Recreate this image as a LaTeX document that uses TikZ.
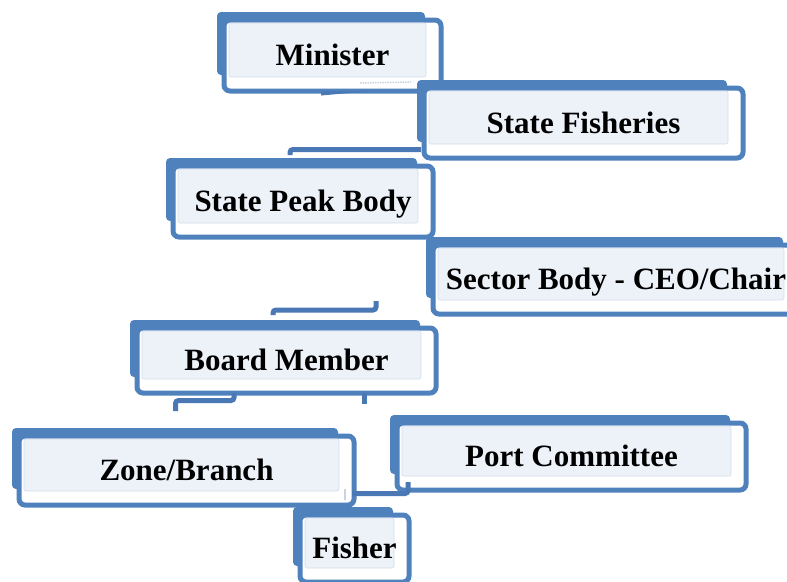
\documentclass[tikz,border=0pt]{standalone}
\usepackage{fontspec}
\setmainfont{Liberation Serif}
\usetikzlibrary{fit}

\definecolor{boxblue}{HTML}{4F81BD}
\definecolor{boxlight}{HTML}{EDF2F9}
\definecolor{panelrim}{HTML}{D3DEEC}
\definecolor{linkblue}{HTML}{4A78B4}
\definecolor{faintgrey}{HTML}{C9D3DF}

\tikzset{
  backplate/.style={fill=boxblue, rounded corners=4pt},
  frame/.style={draw=boxblue, line width=5pt, fill=white, rounded corners=6pt, inner sep=0pt},
  panel/.style={fill=boxlight, draw=panelrim, line width=0.6pt, rounded corners=2pt},
  boxtext/.style={font=\fontsize{31}{33}\selectfont\bfseries, inner sep=0pt, anchor=base},
  link/.style={draw=linkblue, line width=5pt, rounded corners=3pt},
  ghostlink/.style={draw=faintgrey, line width=1.5pt},
}

% \orgbox{name}{x1}{y1}{x2}{y2}{text}: (x1,y1)-(x2,y2) is the solid back plate;
% the outlined frame sits lower right of it and the light panel carries the text.
\newcommand\orgbox[6]{%
  \fill[backplate] (#2,#3) rectangle (#4,#5);
  \path (#2+7,#3+8) coordinate (#1-nw) (#4+16,#5+16) coordinate (#1-se);
  \node[frame, fit=(#1-nw)(#1-se)] (#1) {};
  \path[panel] (#2+12,#3+11) rectangle (#4+1,#5+2);
  \node[boxtext] (#1-text) at ([yshift=-10pt]#1.center) {#6};
}

\begin{document}
\begin{tikzpicture}[x=1pt, y=-1pt]
\useasboundingbox (0,0) rectangle (787,581);

% connector stubs between the levels
\coordinate (c1a) at (321,91);  \coordinate (c1b) at (321,95.5); \coordinate (c1c) at (372,91);
\coordinate (c2a) at (290,155); \coordinate (c2b) at (290,149.5); \coordinate (c2c) at (421,149.5);
\coordinate (c3a) at (273,315); \coordinate (c3b) at (273,310); \coordinate (c3c) at (376,310); \coordinate (c3d) at (376,301);
\coordinate (c4a) at (175.5,411); \coordinate (c4b) at (175.5,400.5); \coordinate (c4c) at (234,400.5); \coordinate (c4d) at (234,393);
\coordinate (c5a) at (364,393); \coordinate (c5b) at (364,404);
\coordinate (c6a) at (352,493.5); \coordinate (c6b) at (408,493.5); \coordinate (c6c) at (408,482);
\coordinate (g1a) at (360,83);  \coordinate (g1b) at (411,82);
\coordinate (g2a) at (345,489); \coordinate (g2b) at (345,500);

\orgbox{minister}{217}{12}{425}{75}{Minister}
\fill[linkblue] (c1a) -- (c1b) -- (c1c) -- cycle;
\draw[ghostlink, densely dotted] (g1a) -- (g1b);

\orgbox{fisheries}{417}{80}{727}{142}{State Fisheries}
\draw[link] (c2a) -- (c2b) -- (c2c);

\orgbox{peak}{166}{158}{417}{221}{State Peak Body}

\orgbox{sector}{426}{237}{783}{298}{Sector Body - CEO/Chair}
\draw[link] (c3a) -- (c3b) -- (c3c) -- (c3d);

\orgbox{board}{130}{320}{420}{377}{Board Member}
\draw[link] (c4a) -- (c4b) -- (c4c) -- (c4d);
\draw[link] (c5a) -- (c5b);

\orgbox{zone}{12}{428}{338}{489}{Zone/Branch}
\orgbox{port}{390}{415}{730}{474}{Port Committee}
\draw[link] (c6a) -- (c6b) -- (c6c);
\draw[ghostlink] (g2a) -- (g2b);

\orgbox{fisher}{293}{507}{393}{566}{Fisher}

\end{tikzpicture}
\end{document}
